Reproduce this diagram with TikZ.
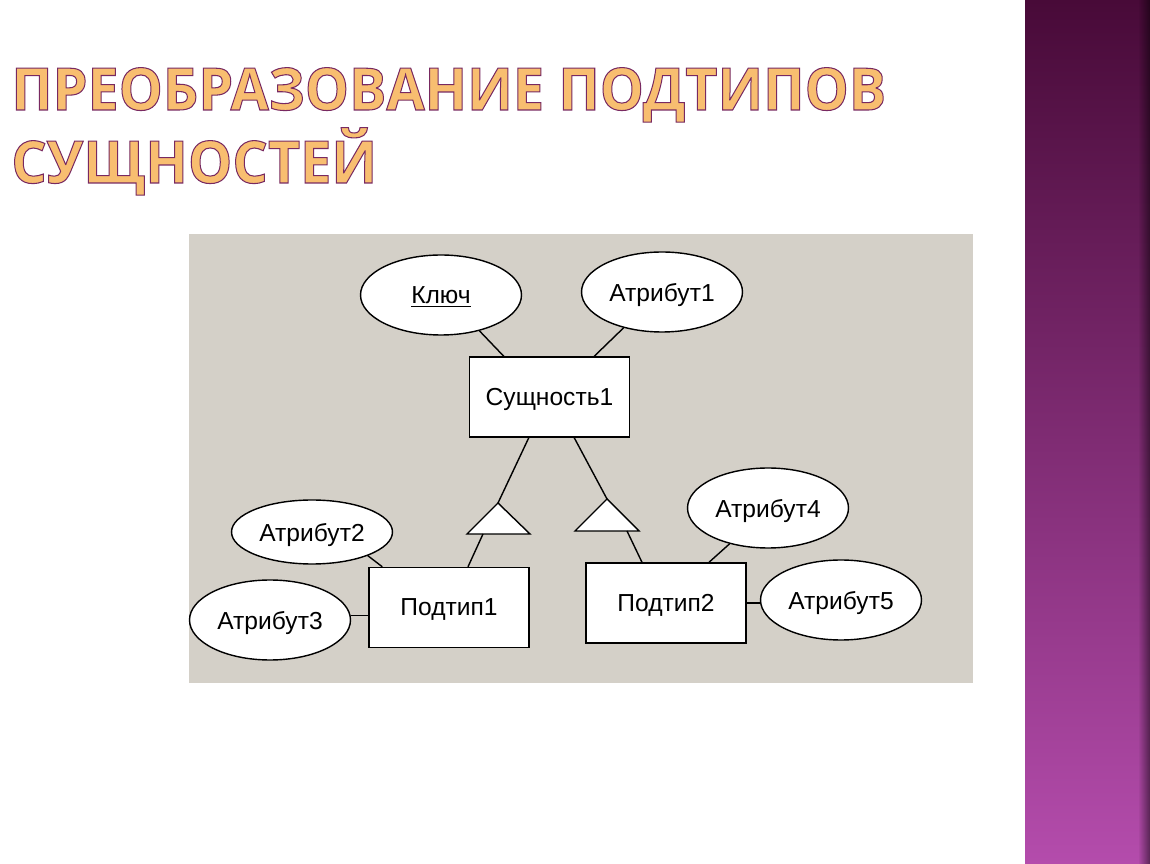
\documentclass[tikz,border=0pt]{standalone}
\usepackage{fontspec}
\setmainfont{Liberation Sans}
\newfontfamily\titlefont[FakeBold=1.8, BoldFeatures={FakeBold=1.8}]{Open Sans}
\usepackage{graphicx}
\usepackage{tikz}
\usetikzlibrary{shapes,positioning,calc,fadings}
\definecolor{ergray}{RGB}{212,208,200}
\definecolor{tlorange}{RGB}{248,190,112}
\definecolor{bandtop}{RGB}{72,10,56}
\definecolor{bandmid}{RGB}{135,46,125}
\definecolor{bandbottom}{RGB}{180,76,172}
% purple outline for the title letters
\newcommand{\tlstroke}{\special{pdf:literal direct 0.47 0.16 0.38 RG}}
\tikzstyle{entity} = [rectangle, draw=black, fill=white, line width=0.8pt, minimum width=3.2cm, minimum height=1.6cm, text centered, text depth=0pt, font=\fontsize{14}{16}\selectfont]
\tikzstyle{attribute} = [ellipse, draw=black, fill=white, line width=0.8pt, minimum width=3.22cm, minimum height=1.6cm, inner sep=0pt, text depth=0pt, font=\fontsize{14}{16}\selectfont]
\tikzstyle{link} = [line width=0.8pt]
\tikzstyle{isa} = [draw=black, fill=white, line width=0.8pt, line join=miter]
\tikzstyle{title} = [anchor=base west, inner sep=0pt, text=tlorange, font=\titlefont\bfseries\fontsize{33.3}{38}\selectfont]

\begin{document}
\begin{tikzpicture}[x=0.02cm, y=-0.02cm]
    \useasboundingbox (0,0) rectangle (1150,864);
    % side band
    \shade[top color=bandtop, middle color=bandmid, bottom color=bandbottom] (1025,0) rectangle (1150,864);
    \fill[black, opacity=0.5, path fading=west] (1138,0) rectangle (1150,864);

    \node[title] (title1) at (11,110) {\resizebox{17.5cm}{\height}{\tlstroke ПРЕОБРАЗОВАНИЕ ПОДТИПОВ}};
    \node[title] (title2) at (11,183) {\resizebox{7.32cm}{\height}{\tlstroke СУЩНОСТЕЙ}};

    \fill[ergray] (189,234) rectangle (973,683);

    \node[entity] (ent) at (549.5,397) {Сущность1};
    \node[attribute] (key) at (441,295) {\underline{Ключ}};
    \node[attribute] (attr1) at (662,292) {Атрибут1};
    \node[entity] (sub1) at (449,607.5) {Подтип1};
    \node[entity] (sub2) at (666,603) {Подтип2};
    \node[attribute, minimum height=1.28cm] (attr2) at (312,532) {Атрибут2};
    \node[attribute] (attr3) at (270,620) {Атрибут3};
    \node[attribute] (attr4) at (768,508) {Атрибут4};
    \node[attribute] (attr5) at (841,600) {Атрибут5};

    % isa triangles
    \coordinate (t1) at (498,503);
    \coordinate (t1b) at (483,534);
    \coordinate (t2) at (607,499);
    \coordinate (t2b) at (627,531);
    \draw[isa] (t1) -- (467,534) -- (530,534) -- cycle;
    \draw[isa] (t2) -- (575,531) -- (639,531) -- cycle;

    \draw[link] (key.-43) -- ([xshift=0.7cm]ent.north west);
    \draw[link] (attr1.-137) -- ([xshift=-0.72cm]ent.north east);
    \draw[link] ([xshift=1.2cm]ent.south west) -- (t1);
    \draw[link] ([xshift=-1.12cm]ent.south east) -- (t2);
    \draw[link] (t1b) -- ([xshift=0.38cm]sub1.north);
    \draw[link] (t2b) -- ([xshift=-0.48cm]sub2.north);
    \draw[link] (attr2.-23) -- ([xshift=0.28cm]sub1.north west);
    \draw[link] (attr3.3) -- (attr3.3 -| sub1.west);
    \draw[link] (attr4.-137) -- ([xshift=0.86cm]sub2.north);
    \draw[link] (sub2.east) -- (sub2.east -| attr5.west);
\end{tikzpicture}
\end{document}
